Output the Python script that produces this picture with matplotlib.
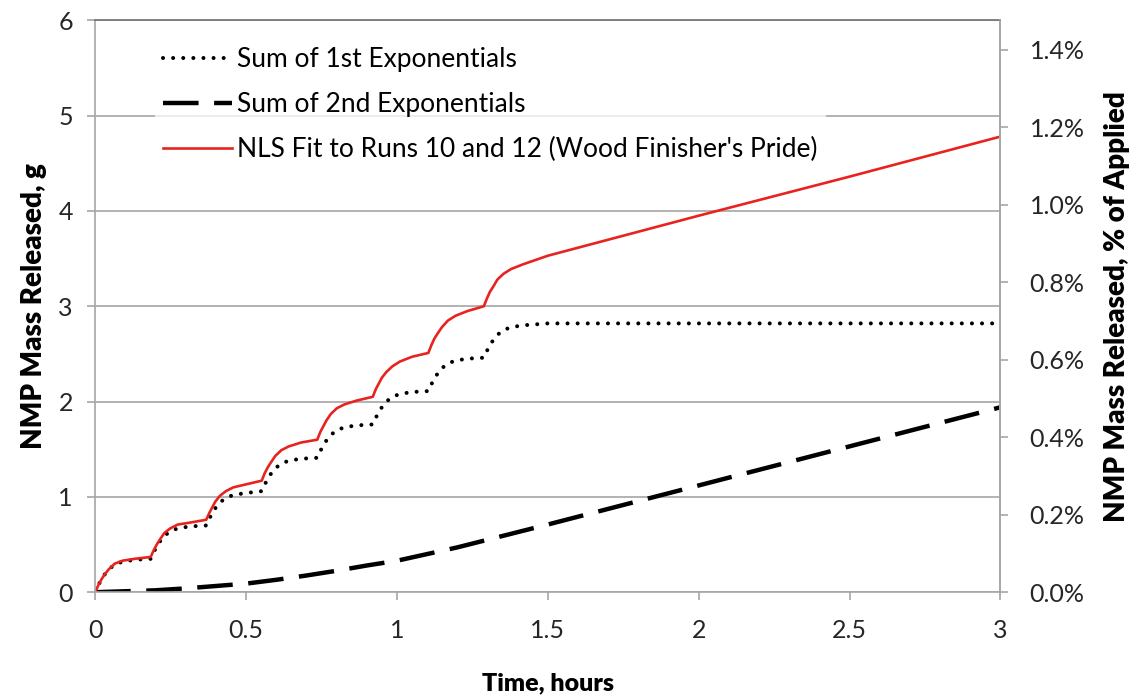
import matplotlib
matplotlib.use("Agg")
import matplotlib.pyplot as plt
from matplotlib.ticker import FuncFormatter

plt.rcParams['font.family'] = ['Lato', 'DejaVu Sans']

# time grid for the pulse curves (hours)
t_pulse = [0.000, 0.010, 0.020, 0.030, 0.045, 0.065, 0.090, 0.130,
           0.184, 0.194, 0.204, 0.214, 0.229, 0.249, 0.274, 0.314,
           0.368, 0.378, 0.388, 0.398, 0.413, 0.433, 0.458, 0.498,
           0.552, 0.562, 0.572, 0.582, 0.597, 0.617, 0.642, 0.682,
           0.736, 0.746, 0.756, 0.766, 0.781, 0.801, 0.826, 0.866,
           0.920, 0.930, 0.940, 0.950, 0.965, 0.985, 1.010, 1.050,
           1.104, 1.114, 1.124, 1.134, 1.149, 1.169, 1.194, 1.234,
           1.288, 1.298, 1.308, 1.318, 1.333, 1.353, 1.378, 1.418,
           1.500, 2.000, 2.500, 3.000]

# Sum of 1st exponentials, g
first_exp = [0.00, 0.07, 0.13, 0.18, 0.24, 0.29, 0.32, 0.34,
             0.35, 0.42, 0.48, 0.53, 0.59, 0.64, 0.67, 0.69,
             0.70, 0.77, 0.83, 0.88, 0.94, 0.99, 1.02, 1.04,
             1.06, 1.13, 1.19, 1.24, 1.30, 1.35, 1.38, 1.40,
             1.41, 1.48, 1.54, 1.59, 1.65, 1.70, 1.73, 1.75,
             1.76, 1.83, 1.89, 1.94, 2.00, 2.05, 2.08, 2.10,
             2.11, 2.18, 2.24, 2.29, 2.35, 2.40, 2.43, 2.45,
             2.46, 2.53, 2.59, 2.64, 2.70, 2.75, 2.78, 2.80,
             2.82, 2.82, 2.82, 2.82]

# NLS fit, g
nls_fit = [0.00, 0.07, 0.13, 0.18, 0.24, 0.30, 0.33, 0.35,
           0.37, 0.44, 0.50, 0.55, 0.62, 0.67, 0.71, 0.73,
           0.76, 0.83, 0.89, 0.95, 1.01, 1.06, 1.10, 1.13,
           1.17, 1.25, 1.31, 1.36, 1.43, 1.49, 1.53, 1.57,
           1.60, 1.68, 1.74, 1.80, 1.87, 1.93, 1.97, 2.01,
           2.05, 2.13, 2.19, 2.25, 2.31, 2.37, 2.42, 2.47,
           2.51, 2.59, 2.66, 2.71, 2.78, 2.85, 2.90, 2.95,
           3.00, 3.08, 3.15, 3.20, 3.28, 3.34, 3.39, 3.44,
           3.53, 3.95, 4.36, 4.78]

# Sum of 2nd exponentials, g
t_second = [0.0, 0.1, 0.2, 0.3, 0.4, 0.5, 0.6, 0.7, 0.8, 0.9,
            1.0, 1.1, 1.2, 1.3, 1.4, 1.5, 2.0, 2.5, 3.0]
second_exp = [0.00, 0.01, 0.02, 0.04, 0.065, 0.09, 0.13, 0.175, 0.225, 0.28,
              0.33, 0.40, 0.47, 0.55, 0.63, 0.71, 1.12, 1.53, 1.94]

# grams per 1% of applied mass
g_per_pct = 4.066

grey = '#a6a6a6'

fig = plt.figure(figsize=(11.33, 7), dpi=100)
ax = fig.add_axes([0.084, 0.154, 0.799, 0.817])

ax.plot(t_pulse, first_exp, color='black', lw=2.9, linestyle=(0, (0.01, 2.5)),
        dash_capstyle='round', label='Sum of 1st Exponentials')
ax.plot(t_second, second_exp, color='black', lw=3.2, linestyle=(0, (8, 3.5)),
        label='Sum of 2nd Exponentials')
ax.plot(t_pulse, nls_fit, color='#e8231f', lw=1.9,
        label="NLS Fit to Runs 10 and 12 (Wood Finisher's Pride)")

ax.set_xlim(0, 3)
ax.set_ylim(0, 6)
ax.set_xticks([0, 0.5, 1, 1.5, 2, 2.5, 3])
ax.set_xticklabels(['0', '0.5', '1', '1.5', '2', '2.5', '3'])
ax.set_yticks(range(7))
ax.yaxis.grid(True, color=grey, lw=1.2)
ax.set_axisbelow(True)
for s in ax.spines.values():
    s.set_color(grey)
    s.set_linewidth(1.2)
ax.spines['top'].set_color('#707070')
ax.tick_params(axis='both', colors=grey, labelcolor='#262626', labelsize=18,
               length=6, width=1.2, direction='out')
ax.tick_params(axis='x', pad=13)
ax.tick_params(axis='y', pad=10)

ax.set_xlabel('Time, hours', fontsize=18, fontweight='heavy', labelpad=22)
ax.set_ylabel('NMP Mass Released, g', fontsize=20, fontweight='heavy', labelpad=8)

ax2 = ax.twinx()
ax2.set_ylim(0, 6 / g_per_pct)
ax2.set_yticks([0.0, 0.2, 0.4, 0.6, 0.8, 1.0, 1.2, 1.4])
ax2.yaxis.set_major_formatter(FuncFormatter(lambda v, p: f'{v:.1f}%'))
for s in ax2.spines.values():
    s.set_visible(False)
ax2.spines['right'].set_visible(True)
ax2.spines['right'].set_color(grey)
ax2.spines['right'].set_linewidth(1.2)
ax2.tick_params(axis='y', colors=grey, labelcolor='#262626', labelsize=18,
                length=6, width=1.2, pad=15)
ax2.set_ylabel('NMP Mass Released, % of Applied', fontsize=20, fontweight='heavy',
               rotation=90, labelpad=14)

leg = ax.legend(loc='upper left', bbox_to_anchor=(0.052, 0.99), fontsize=19,
                frameon=True, facecolor='white', edgecolor='none', framealpha=0.75,
                handlelength=2.6, handletextpad=0.2, labelspacing=0.75,
                borderpad=0.3)
leg.get_frame().set_linewidth(0)

fig.savefig('out.png', dpi=100)
